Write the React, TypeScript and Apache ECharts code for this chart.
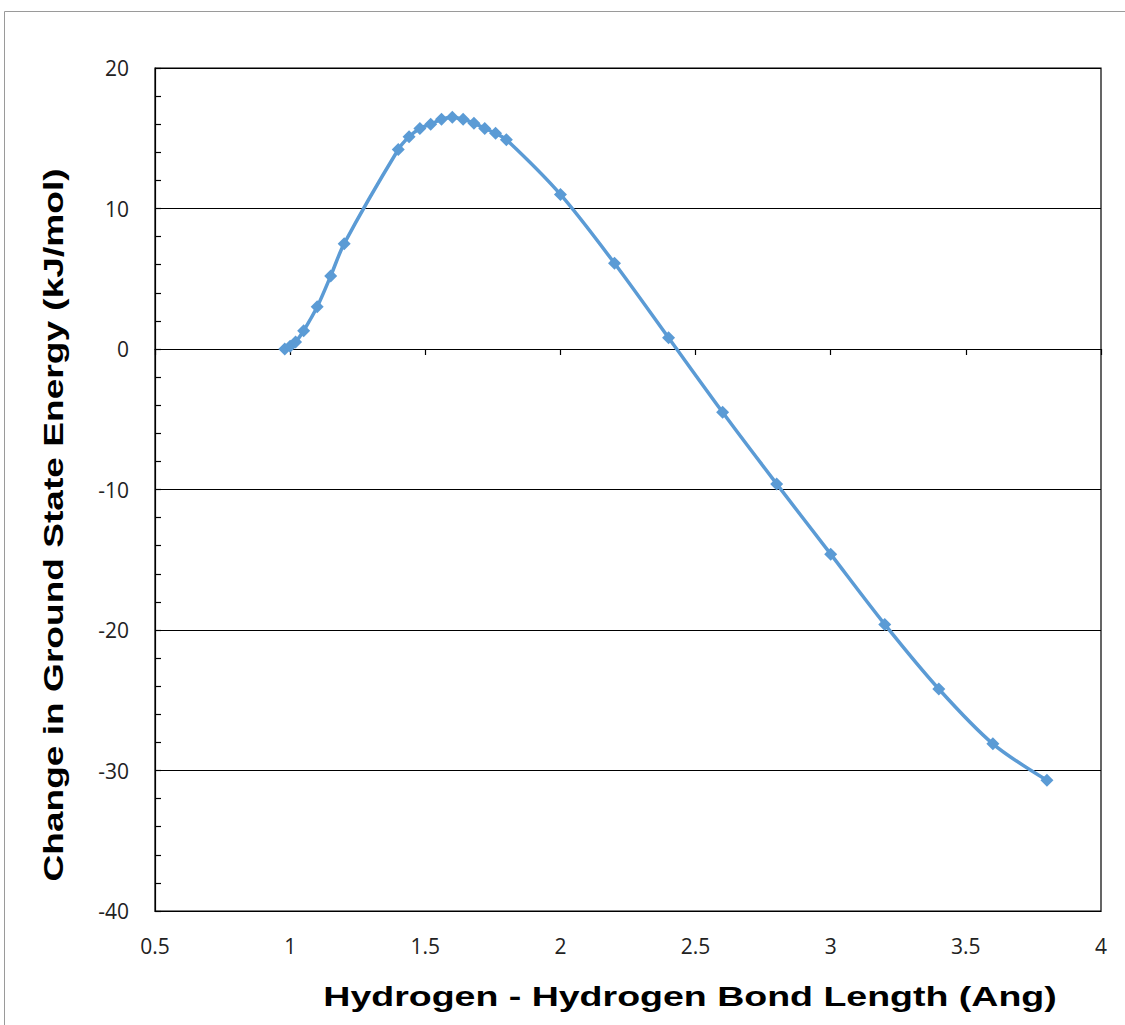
import React, { useEffect, useRef } from "react";
import * as echarts from "echarts";

const bondLength = [0.98, 1.0, 1.02, 1.05, 1.1, 1.15, 1.2, 1.4, 1.44, 1.48, 1.52, 1.56, 1.6, 1.64, 1.68, 1.72, 1.76, 1.8, 2.0, 2.2, 2.4, 2.6, 2.8, 3.0, 3.2, 3.4, 3.6, 3.8];
const energyChange = [0.0, 0.2, 0.5, 1.3, 3.0, 5.2, 7.5, 14.2, 15.1, 15.7, 16.0, 16.35, 16.5, 16.35, 16.07, 15.7, 15.35, 14.9, 11.0, 6.1, 0.8, -4.5, -9.6, -14.6, -19.6, -24.2, -28.1, -30.7];

const xTitle = "Hydrogen - Hydrogen Bond Length (Ang)";
const yTitle = "Change in Ground State Energy (kJ/mol)";

export default function App() {
  const ref = useRef<HTMLDivElement>(null);
  useEffect(() => {
    if (!ref.current) return;
    const chart = echarts.init(ref.current, null, { renderer: "svg" });
    const data = bondLength.map((x, i) => [x, energyChange[i]]);
    const labelFont = { fontFamily: "Open Sans", fontSize: 21, color: "#222" };
    const titleFont = 'bold 28px "Liberation Sans", Arial, sans-serif';
    chart.setOption({
      animation: false,
      backgroundColor: "#fff",
      graphic: [
        {
          type: "rect",
          shape: { x: 4.5, y: 11.5, width: 1130, height: 1030 },
          style: { fill: "none", stroke: "#9a9a9a", lineWidth: 1 },
          z: 0,
        },
        {
          type: "text",
          x: 690,
          y: 996,
          scaleX: 1.34,
          style: { text: xTitle, font: titleFont, fill: "#000", textAlign: "center", textVerticalAlign: "middle" },
        },
        {
          type: "text",
          x: 53,
          y: 525,
          rotation: Math.PI / 2,
          scaleX: 1.325,
          style: { text: yTitle, font: titleFont, fill: "#000", textAlign: "center", textVerticalAlign: "middle" },
        },
      ],
      grid: {
        left: 155,
        top: 68,
        right: 24,
        bottom: 114,
        show: true,
        borderColor: "#000",
        borderWidth: 1.2,
        backgroundColor: "transparent",
      },
      xAxis: [
        {
          type: "value",
          min: 0.5,
          max: 4,
          interval: 0.5,
          position: "bottom",
          axisLine: { show: true, onZero: false, lineStyle: { color: "#000", width: 1.2 } },
          axisTick: { show: false },
          splitLine: { show: false },
          axisLabel: { ...labelFont, margin: 24 },
        },
        {
          type: "value",
          min: 0.5,
          max: 4,
          interval: 0.5,
          position: "bottom",
          axisLine: { show: true, onZero: true, lineStyle: { color: "#000", width: 1.2 } },
          axisTick: { show: true, inside: false, length: 6, lineStyle: { color: "#000", width: 1.2 } },
          splitLine: { show: false },
          axisLabel: { show: false },
        },
      ],
      yAxis: {
        type: "value",
        min: -40,
        max: 20,
        interval: 10,
        axisLine: { show: true, lineStyle: { color: "#000", width: 1.2 } },
        axisTick: { show: true, inside: true, length: 6, lineStyle: { color: "#000", width: 1.2 } },
        minorTick: { show: true, splitNumber: 5, length: 6, lineStyle: { color: "#000", width: 1.2 } },
        splitLine: { show: true, lineStyle: { color: "#000", width: 1.2 } },
        axisLabel: { ...labelFont, margin: 26 },
      },
      series: [
        {
          type: "line",
          xAxisIndex: 0,
          data,
          smooth: 0.3,
          symbol: "diamond",
          symbolSize: 13,
          showAllSymbol: true,
          lineStyle: { color: "#5B9BD5", width: 3.5 },
          itemStyle: { color: "#5B9BD5" },
        },
      ],
    });
    return () => chart.dispose();
  }, []);
  return <div ref={ref} style={{ position: "absolute", left: 0, top: 0, width: 1125, height: 1025 }} />;
}
